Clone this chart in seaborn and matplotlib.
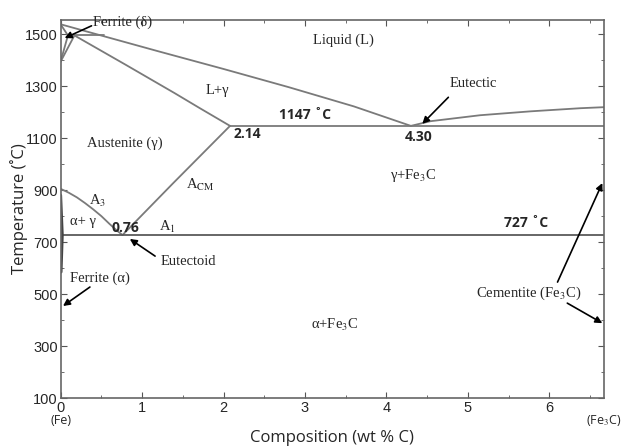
import matplotlib
matplotlib.use("Agg")
import matplotlib.pyplot as plt
import seaborn as sns
import pandas as pd
from matplotlib.ticker import MultipleLocator
import matplotlib.transforms as mtransforms

# ---- data ----
liquidus_x = [0.0, 0.53, 1.2, 2.0, 2.8, 3.6, 4.30]
liquidus_T = [1538, 1492, 1434, 1366, 1296, 1222, 1147]
hyper_liq_x = [4.30, 4.54, 5.15, 5.77, 6.38, 6.67]
hyper_liq_T = [1147, 1165, 1188, 1203, 1215, 1219]
solidus_x = [0.17, 0.8, 1.4, 1.71, 2.08]
solidus_T = [1495, 1382, 1273, 1215, 1147]
acm_x = [0.76, 1.38, 2.08]
acm_T = [727, 926, 1147]
a3_x = [0.0, 0.1, 0.2, 0.3, 0.4, 0.5, 0.6, 0.7, 0.76]
a3_T = [905, 890, 872, 850, 826, 800, 770, 742, 727]
eutectoid_x = [0.0, 6.67]
eutectoid_T = [727, 727]
eutectic_x = [2.08, 6.67]
eutectic_T = [1147, 1147]
peritectic_x = [0.09, 0.53]
peritectic_T = [1495, 1495]
delta_sol_x = [0.0, 0.09]
delta_sol_T = [1538, 1495]
delta_solvus_x = [0.0, 0.09]
delta_solvus_T = [1394, 1495]
gamma_bound_x = [0.0, 0.17]
gamma_bound_T = [1394, 1495]
alpha_x = [0.0, 0.02, 0.005]
alpha_T = [880, 727, 585]

x_ticks = [0, 1, 2, 3, 4, 5, 6]
y_ticks = [100, 300, 500, 700, 900, 1100, 1300, 1500]

region_labels = ["Liquid (L)", "L+γ", "Austenite (γ)", r"A$_{\mathrm{CM}}$",
                 r"γ+Fe$_3$C", r"A$_3$", "α+ γ", r"A$_1$", r"α+Fe$_3$C"]
region_x = [3.47, 1.93, 0.79, 1.71, 4.33, 0.45, 0.28, 1.31, 3.37]
region_T = [1477, 1285, 1081, 919, 958, 857, 781, 758, 381]

bold_labels = ["1147 ˚C", "2.14", "4.30", "0.76", "727 ˚C"]
bold_x = [3.0, 2.29, 4.40, 0.80, 5.71]
bold_T = [1188, 1115, 1104, 754, 773]

# annotations: text, text pos, arrow tail, arrow head
ann_text = ["Ferrite (δ)", "Eutectic", "Eutectoid", "Ferrite (α)"]
ann_text_x = [0.40, 5.07, 1.57, 0.48]
ann_text_T = [1546, 1312, 627, 562]
ann_tail_x = [0.38, 4.76, 1.16, 0.36]
ann_tail_T = [1532, 1257, 646, 527]
ann_head_x = [0.05, 4.44, 0.85, 0.03]
ann_head_T = [1485, 1155, 712, 454]

cem_text_x, cem_text_T = 5.74, 504
cem_tail_x = [6.10, 6.22]
cem_tail_T = [546, 465]
cem_head_x = [6.65, 6.65]
cem_head_T = [927, 388]

# ---- plotting ----
sns.set_style("ticks")
plt.rcParams["font.family"] = ["Liberation Sans", "DejaVu Sans"]
plt.rcParams["mathtext.fontset"] = "stix"

fig = plt.figure(figsize=(6.22, 4.47), dpi=100)
ax = fig.add_axes([0.0974, 0.1096, 0.8736, 0.846])

line_col = "#7a7a7a"
segments = [
    (liquidus_x, liquidus_T), (hyper_liq_x, hyper_liq_T), (solidus_x, solidus_T),
    (acm_x, acm_T), (a3_x, a3_T), (eutectic_x, eutectic_T),
    (peritectic_x, peritectic_T), (delta_sol_x, delta_sol_T),
    (delta_solvus_x, delta_solvus_T), (gamma_bound_x, gamma_bound_T),
]
for xs, ts in segments:
    df = pd.DataFrame({"x": xs, "T": ts})
    sns.lineplot(data=df, x="x", y="T", ax=ax, color=line_col, lw=1.3,
                 sort=False, estimator=None)
sns.lineplot(data=pd.DataFrame({"x": eutectoid_x, "T": eutectoid_T}), x="x", y="T",
             ax=ax, color="#5a5a5a", lw=1.3, sort=False, estimator=None)
sns.lineplot(data=pd.DataFrame({"x": alpha_x, "T": alpha_T}), x="x", y="T",
             ax=ax, color="#444444", lw=2.2, sort=False, estimator=None)

serif = ["Liberation Serif", "DejaVu Serif"]
for t, x, y in zip(region_labels, region_x, region_T):
    ax.text(x, y, t, ha="center", va="center", fontsize=10.5, family=serif)

for t, x, y in zip(bold_labels, bold_x, bold_T):
    ax.text(x, y, t, ha="center", va="center", fontsize=10, fontweight="bold",
            family=["Open Sans", "DejaVu Sans"])

ap = dict(arrowstyle="-|>", color="black", lw=1.2, mutation_scale=10, shrinkA=0, shrinkB=0)
for t, tx, tT, ax_, aT, hx, hT in zip(ann_text, ann_text_x, ann_text_T, ann_tail_x,
                                      ann_tail_T, ann_head_x, ann_head_T):
    ax.annotate("", xy=(hx, hT), xytext=(ax_, aT), arrowprops=ap)
    ha = "left" if t == "Ferrite (δ)" else "center"
    ax.text(tx, tT, t, ha=ha, va="center", fontsize=10.5, family=serif)

ax.text(cem_text_x, cem_text_T, r"Cementite (Fe$_3$C)", ha="center", va="center",
        fontsize=10.5, family=serif)
for tx, tT, hx, hT in zip(cem_tail_x, cem_tail_T, cem_head_x, cem_head_T):
    ax.annotate("", xy=(hx, hT), xytext=(tx, tT), arrowprops=ap)

trans = mtransforms.blended_transform_factory(ax.transData, ax.transAxes)
sans2 = ["Open Sans", "DejaVu Sans"]
ax.text(0, -0.06, "(Fe)", transform=trans, ha="center", va="center", fontsize=9,
        family=sans2, clip_on=False)
ax.text(6.67, -0.06, r"(Fe$_3$C)", transform=trans, ha="center", va="center", fontsize=9,
        family=sans2, clip_on=False)

ax.set_xlim(0, 6.67)
ax.set_ylim(100, 1555)
ax.set_xticks(x_ticks)
ax.set_yticks(y_ticks)
ax.xaxis.set_minor_locator(MultipleLocator(0.5))
ax.yaxis.set_minor_locator(MultipleLocator(100))
ax.tick_params(which="both", direction="in", top=True, right=True, color="#555555")
ax.tick_params(which="major", length=4, labelsize=10.5, pad=2)
ax.tick_params(which="minor", length=2)
for s in ax.spines.values():
    s.set_color("#666666")
    s.set_linewidth(1.2)

ax.set_xlabel("Composition (wt % C)", fontsize=12, family=sans2)
ax.set_ylabel("Temperature (˚C)", fontsize=12, family=sans2)
ax.xaxis.set_label_coords(0.5, -0.085)
ax.yaxis.set_label_coords(-0.06, 0.5)

fig.savefig("out.png", dpi=100)
